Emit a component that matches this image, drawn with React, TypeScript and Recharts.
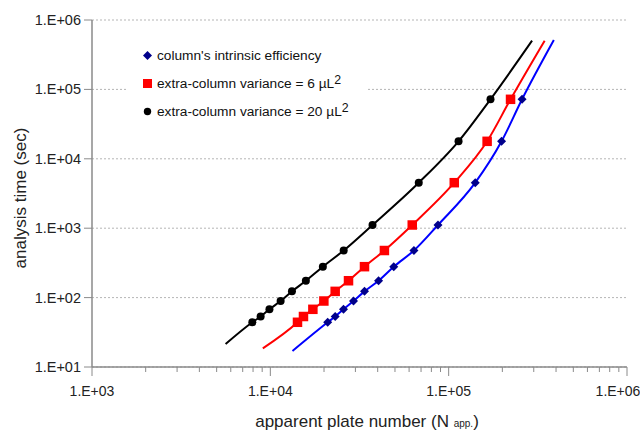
import React from 'react';
import { ComposedChart, Line, Scatter, XAxis, YAxis, CartesianGrid, Legend, Label } from 'recharts';

// analysis time (sec) shared by the marker points of each series
const analysisTimes = [44.1, 53.4, 67.8, 89.3, 123, 175, 279, 477, 1112, 4527, 17860, 71970];
// apparent plate numbers at those times
const intrinsicN = [20970, 23100, 25720, 29270, 33730, 40440, 49200, 63880, 87100, 141000, 198000, 258000];
const extra6N = [14200, 15340, 17320, 19960, 23100, 27440, 33730, 43620, 62480, 107500, 164300, 222300];
const extra20N = [7925, 8822, 9885, 11420, 13220, 15820, 19700, 25780, 37410, 67960, 113600, 171600];

// curve end points (intrinsic, 6 µL², 20 µL²)
const curveStartN = [13310, 9076, 5612];
const curveStartT = [17.0, 18.6, 21.4];
const curveEndN = [389000, 345300, 293500];
const curveEndT = [515000, 503500, 503500];

const seriesNames = ["column's intrinsic efficiency", 'extra-column variance = 6 \u00b5L', 'extra-column variance = 20 \u00b5L'];
const seriesSup = ['', '2', '2'];

const xTicks = [
  1000, 2000, 3000, 4000, 5000, 6000, 7000, 8000, 9000,
  10000, 20000, 30000, 40000, 50000, 60000, 70000, 80000, 90000,
  100000, 200000, 300000, 400000, 500000, 600000, 700000, 800000, 900000,
  1000000,
];
const yTicks = [10, 100, 1000, 10000, 100000, 1000000];

const FONT = '"Liberation Sans", Arial, sans-serif';
const AXIS = '#8a8a8a';

const fmt = (v: number) => '1.E+' + String(Math.round(Math.log10(v))).padStart(2, '0');
const isMajor = (v: number) => Math.abs(Math.log10(v) - Math.round(Math.log10(v))) < 1e-6;

const toPoints = (ns: number[]) => ns.map((n, i) => ({ n, t: analysisTimes[i] }));
const markers = [toPoints(intrinsicN), toPoints(extra6N), toPoints(extra20N)];
const curves = markers.map((pts, k) => [
  { n: curveStartN[k], t: curveStartT[k] },
  ...pts,
  { n: curveEndN[k], t: curveEndT[k] },
]);

const lineColors = ['#0000ff', '#ff0000', '#000000'];
const markerColors = ['#00008b', '#ff0000', '#000000'];

const Diamond = (p: any) => {
  const { cx, cy } = p;
  const r = 4.5;
  return <polygon points={`${cx},${cy - r} ${cx + r},${cy} ${cx},${cy + r} ${cx - r},${cy}`} fill={markerColors[0]} />;
};
const Square = (p: any) => {
  const { cx, cy } = p;
  return <rect x={cx - 4.75} y={cy - 4.75} width={9.5} height={9.5} fill={markerColors[1]} />;
};
const Dot = (p: any) => {
  const { cx, cy } = p;
  return <circle cx={cx} cy={cy} r={4} fill={markerColors[2]} />;
};
const shapes = [Diamond, Square, Dot];

const XTick = (props: any) => {
  const { x, y, payload } = props;
  const v = payload.value;
  const major = isMajor(v);
  const lx = Math.min(x, 618);
  return (
    <g>
      <line x1={x} x2={x} y1={y} y2={y + (major ? 9 : 5)} stroke={AXIS} strokeWidth={1} />
      {major && (
        <text x={lx} y={y + 29} textAnchor="middle" fontSize={14} fontFamily={FONT} fill="#222">
          {fmt(v)}
        </text>
      )}
    </g>
  );
};

const YTick = (props: any) => {
  const { x, y, payload } = props;
  return (
    <g>
      <line x1={x - 8} x2={x} y1={y} y2={y} stroke={AXIS} strokeWidth={1} />
      <text x={x - 11} y={y + 5} textAnchor="end" fontSize={14.5} fontFamily={FONT} fill="#222">
        {fmt(payload.value)}
      </text>
    </g>
  );
};

const LegendMarker = ({ k }: { k: number }) => (
  <svg width={11} height={11} style={{ display: 'block' }}>
    {k === 0 && <polygon points="5.5,1 10,5.5 5.5,10 1,5.5" fill={markerColors[0]} />}
    {k === 1 && <rect x={1} y={1} width={9} height={9} fill={markerColors[1]} />}
    {k === 2 && <circle cx={5.5} cy={5.5} r={3.7} fill={markerColors[2]} />}
  </svg>
);

const LegendBox = () => (
  <div style={{ background: '#fff', fontFamily: FONT, fontSize: 13.7, color: '#111', width: 241 }}>
    {seriesNames.map((name, k) => (
      <div key={k} style={{ height: 27.7, display: 'flex', alignItems: 'center', paddingLeft: 15 }}>
        <LegendMarker k={k} />
        <span style={{ marginLeft: 4, whiteSpace: 'nowrap' }}>
          {name}
          {seriesSup[k] && (
            <sup style={{ fontSize: '0.9em', verticalAlign: '0.35em', lineHeight: 0 }}>{seriesSup[k]}</sup>
          )}
        </span>
      </div>
    ))}
  </div>
);

export default function App() {
  return (
    <div style={{ position: 'absolute', left: 0, top: 0, width: 640, height: 433, background: '#fff' }}>
      <ComposedChart width={640} height={433} margin={{ top: 20, right: 13, bottom: 0, left: 0 }}>
        <CartesianGrid vertical={false} stroke="#b5b5b5" strokeDasharray="2 2" />
        <XAxis
          dataKey="n"
          type="number"
          scale="log"
          domain={[1000, 1000000]}
          allowDataOverflow
          ticks={xTicks}
          interval={0}
          tick={<XTick />}
          tickLine={false}
          tickSize={0}
          tickMargin={0}
          height={66}
          axisLine={{ stroke: AXIS, strokeWidth: 1.5 }}
        >
          <Label
            content={() => (
              <text x={367} y={427} textAnchor="middle" fontSize={17} fontFamily={FONT} fill="#222">
                apparent plate number (N <tspan fontSize={10}>app.</tspan>)
              </text>
            )}
          />
        </XAxis>
        <YAxis
          dataKey="t"
          type="number"
          scale="log"
          domain={[10, 1000000]}
          allowDataOverflow
          ticks={yTicks}
          interval={0}
          tick={<YTick />}
          tickLine={false}
          tickSize={0}
          tickMargin={0}
          width={92}
          axisLine={{ stroke: AXIS, strokeWidth: 1.5 }}
        >
          <Label
            content={() => (
              <text
                x={20}
                y={198}
                transform="rotate(-90 20 198)"
                textAnchor="middle"
                dominantBaseline="central"
                fontSize={17}
                fontFamily={FONT}
                fill="#222"
              >
                analysis time (sec)
              </text>
            )}
          />
        </YAxis>
        <Legend
          layout="vertical"
          align="center"
          verticalAlign="middle"
          content={<LegendBox />}
          wrapperStyle={{ left: 127, top: 42, width: 241, height: 83 }}
        />
        {curves.map((data, k) => (
          <Line
            key={'l' + k}
            data={data}
            dataKey="t"
            type="monotone"
            stroke={lineColors[k]}
            strokeWidth={2}
            dot={false}
            activeDot={false}
            isAnimationActive={false}
            legendType="none"
          />
        ))}
        {markers.map((data, k) => (
          <Scatter
            key={'s' + k}
            data={data}
            dataKey="t"
            fill={markerColors[k]}
            shape={shapes[k]}
            isAnimationActive={false}
            legendType="none"
          />
        ))}
      </ComposedChart>
    </div>
  );
}
